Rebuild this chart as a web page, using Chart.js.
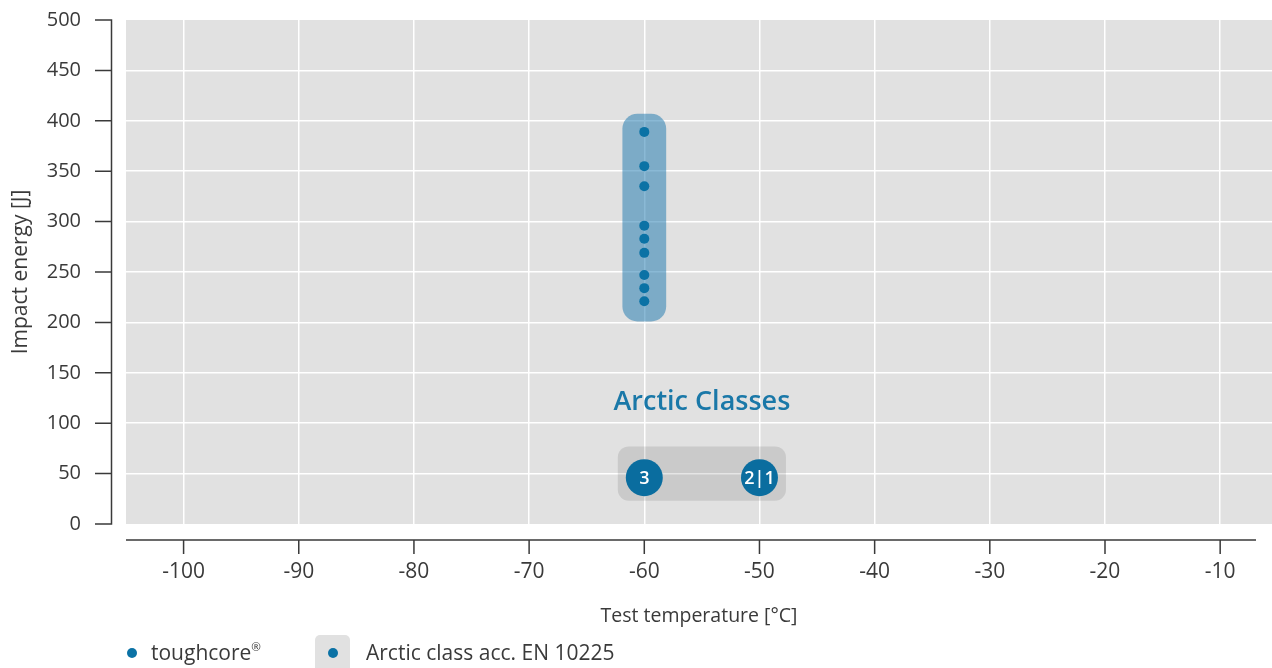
<!DOCTYPE html>
<html>
<head>
<meta charset="utf-8">
<script src="https://cdn.jsdelivr.net/npm/chart.js@4"></script>
<style>
  html, body { margin: 0; padding: 0; background: #ffffff; }
  #wrap { position: relative; width: 1272px; height: 668px; overflow: hidden; }
  canvas { position: absolute; left: 0; top: 0; }
  .lg { position: absolute; font-family: "Open Sans", sans-serif; font-size: 21px; color: #3a3a3a; line-height: 26px; white-space: nowrap; }
  .lg sup { font-size: 0.55em; vertical-align: 0.75em; line-height: 0; }
  .dot { position: absolute; width: 10px; height: 10px; border-radius: 50%; background: #0b72a5; }
  .box { position: absolute; background: #e1e1e1; border-radius: 5px; }
</style>
</head>
<body>
<div id="wrap">
  <canvas id="c" width="1272" height="668"></canvas>
  <div class="dot" style="left:127px; top:648px;"></div>
  <div class="lg" style="left:151px; top:639px;">toughcore<sup>®</sup></div>
  <div class="box" style="left:315px; top:635px; width:35px; height:40px;"></div>
  <div class="dot" style="left:328px; top:648px;"></div>
  <div class="lg" style="left:366px; top:639px;">Arctic class acc. EN 10225</div>
</div>
<script>
// ---- data ----
const xTicks = [-100, -90, -80, -70, -60, -50, -40, -30, -20, -10];
const yTicks = [0, 50, 100, 150, 200, 250, 300, 350, 400, 450, 500];
const toughcoreTemp = [-60, -60, -60, -60, -60, -60, -60, -60, -60];
const toughcoreEnergy = [389, 355, 335, 296, 283, 269, 247, 234, 221];
const arcticTemp = [-60, -50];
const arcticEnergy = [46, 46];
const arcticLabels = ['3', '2|1'];
const toughcoreBandTemp = [-61.9, -58.1];
const toughcoreBandEnergy = [201, 407];
const arcticBandTemp = [-62.3, -47.7];
const arcticBandEnergy = [23, 77];
const arcticTitle = 'Arctic Classes';
const arcticTitlePos = [-55, 121];
const xTitle = 'Test temperature [°C]';
const yTitle = 'Impact energy [J]';

const FONT = '"Open Sans", sans-serif';
const BLUE = '#0b72a5';

const decor = {
  id: 'decor',
  beforeDraw(chart) {
    const {ctx, chartArea: a} = chart;
    ctx.save();
    ctx.fillStyle = '#e1e1e1';
    ctx.fillRect(a.left, a.top, a.right - a.left, a.bottom - a.top);
    ctx.restore();
  },
  beforeDatasetsDraw(chart) {
    const {ctx} = chart;
    const x = chart.scales.x, y = chart.scales.y;
    ctx.save();
    let x0 = x.getPixelForValue(toughcoreBandTemp[0]), x1 = x.getPixelForValue(toughcoreBandTemp[1]);
    let y0 = y.getPixelForValue(toughcoreBandEnergy[1]), y1 = y.getPixelForValue(toughcoreBandEnergy[0]);
    ctx.fillStyle = 'rgba(30,120,175,0.52)';
    ctx.beginPath();
    ctx.roundRect(x0, y0, x1 - x0, y1 - y0, 15);
    ctx.fill();
    x0 = x.getPixelForValue(arcticBandTemp[0]); x1 = x.getPixelForValue(arcticBandTemp[1]);
    y0 = y.getPixelForValue(arcticBandEnergy[1]); y1 = y.getPixelForValue(arcticBandEnergy[0]);
    ctx.fillStyle = 'rgba(0,0,0,0.10)';
    ctx.beginPath();
    ctx.roundRect(x0, y0, x1 - x0, y1 - y0, 11);
    ctx.fill();
    ctx.restore();
  },
  afterDatasetsDraw(chart) {
    const {ctx} = chart;
    const x = chart.scales.x, y = chart.scales.y;
    ctx.save();
    ctx.fillStyle = '#ffffff';
    ctx.font = '600 18px ' + FONT;
    ctx.textAlign = 'center';
    ctx.textBaseline = 'middle';
    arcticLabels.forEach((t, i) => {
      ctx.fillText(t, x.getPixelForValue(arcticTemp[i]), y.getPixelForValue(arcticEnergy[i]) + 1);
    });
    ctx.fillStyle = '#1a78a8';
    ctx.font = '600 27px ' + FONT;
    ctx.fillText(arcticTitle, x.getPixelForValue(arcticTitlePos[0]), y.getPixelForValue(arcticTitlePos[1]));
    ctx.restore();
  },
  afterDraw(chart) {
    const {ctx, chartArea: a} = chart;
    const x = chart.scales.x, y = chart.scales.y;
    ctx.save();
    ctx.strokeStyle = '#3a3a3a';
    ctx.lineWidth = 1.5;
    const ax = 111.5;
    ctx.beginPath();
    ctx.moveTo(ax, y.getPixelForValue(500) - 0.75);
    ctx.lineTo(ax, y.getPixelForValue(0) + 0.75);
    y.ticks.forEach(t => {
      const p = y.getPixelForValue(t.value);
      ctx.moveTo(95, p);
      ctx.lineTo(ax, p);
    });
    ctx.stroke();
    const ay = 540;
    ctx.beginPath();
    ctx.moveTo(a.left, ay);
    ctx.lineTo(1256, ay);
    x.ticks.forEach(t => {
      const p = x.getPixelForValue(t.value);
      ctx.moveTo(p, ay);
      ctx.lineTo(p, 554);
    });
    ctx.stroke();
    ctx.restore();
  }
};

new Chart(document.getElementById('c'), {
  type: 'scatter',
  data: {
    datasets: [
      {
        label: 'toughcore®',
        data: toughcoreTemp.map((t, i) => ({x: t, y: toughcoreEnergy[i]})),
        backgroundColor: BLUE,
        borderWidth: 0,
        pointRadius: 5,
        pointHoverRadius: 5
      },
      {
        label: 'Arctic class acc. EN 10225',
        data: arcticTemp.map((t, i) => ({x: t, y: arcticEnergy[i]})),
        backgroundColor: '#0a6d9f',
        borderWidth: 0,
        pointRadius: 18.5,
        pointHoverRadius: 18.5
      }
    ]
  },
  options: {
    responsive: false,
    animation: false,
    devicePixelRatio: 1,
    layout: { autoPadding: false, padding: { top: 20, right: 0, bottom: 0, left: 0 } },
    plugins: { legend: { display: false }, tooltip: { enabled: false } },
    scales: {
      x: {
        type: 'linear',
        min: -105,
        max: -5.5,
        afterBuildTicks: s => { s.ticks = xTicks.map(v => ({value: v})); },
        afterFit: s => { s.height = 144; },
        grid: { color: '#ffffff', lineWidth: 1.5, drawTicks: true, tickLength: 35, tickColor: 'rgba(0,0,0,0)' },
        border: { display: false },
        ticks: { padding: 0, color: '#3a3a3a', font: { family: FONT, size: 21 }, callback: v => String(v) },
        title: { display: true, text: xTitle, color: '#3a3a3a', font: { family: FONT, size: 19.5 }, padding: { top: 0, bottom: 40 } }
      },
      y: {
        type: 'linear',
        min: 0,
        max: 500,
        afterBuildTicks: s => { s.ticks = yTicks.map(v => ({value: v})); },
        afterFit: s => { s.width = 126; },
        grid: { color: ctx => (ctx.tick && (ctx.tick.value === 0 || ctx.tick.value === 500)) ? 'rgba(0,0,0,0)' : '#ffffff', lineWidth: 1.5, drawTicks: true, tickLength: 45, tickColor: 'rgba(0,0,0,0)' },
        border: { display: false },
        ticks: { padding: 0, color: '#3a3a3a', font: { family: FONT, size: 20 }, callback: v => String(v) },
        title: { display: true, text: yTitle, color: '#3a3a3a', font: { family: FONT, size: 21 }, padding: { top: 8, bottom: 0 } }
      }
    }
  },
  plugins: [decor]
});
</script>
</body>
</html>
